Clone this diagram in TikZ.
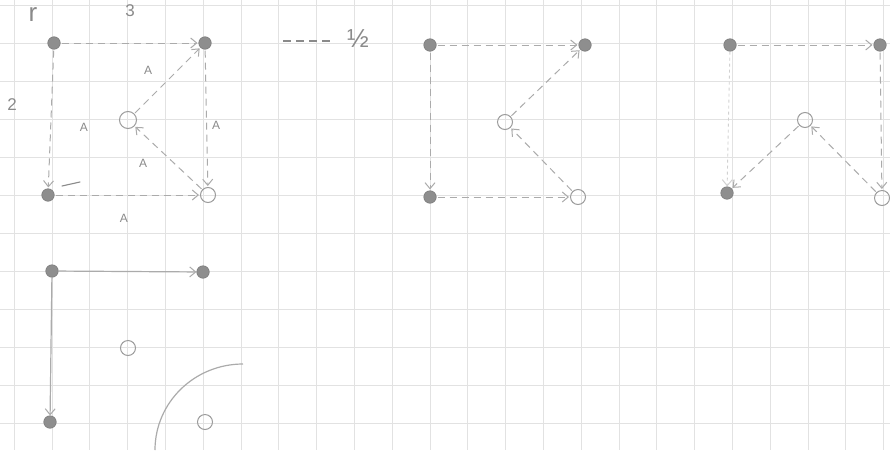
\documentclass[tikz,border=0pt]{standalone}
\usepackage{fontspec}
\setmainfont{Liberation Sans}
\usetikzlibrary{arrows.meta}
\definecolor{gridc}{HTML}{E2E2E2}
\definecolor{dotc}{HTML}{8E8E8E}
\definecolor{dotd}{HTML}{7C7C7C}
\definecolor{ringc}{HTML}{9C9C9C}
\definecolor{edgec}{HTML}{ABABAB}
\definecolor{inkc}{HTML}{8A8A8A}
\tikzset{
  gridline/.style={draw=gridc, line width=0.9pt},
  fdot/.style={circle, fill=dotc, draw=dotd, line width=0.6pt, minimum size=12.5pt, inner sep=0pt},
  hdot/.style={circle, draw=ringc, line width=1pt, minimum size=15pt, inner sep=0pt},
  edge/.style={draw=edgec, line width=1pt, dash pattern=on 7pt off 5pt, shorten >=1pt, shorten <=1pt,
    -{Straight Barb[length=6pt,width=10pt,line width=1pt]}},
  faint/.style={draw=gridc!70!edgec, line width=0.9pt, dash pattern=on 3pt off 3pt,
    -{Straight Barb[length=6pt,width=10pt,line width=1pt]}},
  solidedge/.style={draw=edgec, line width=1.2pt, -{Straight Barb[length=6pt,width=10pt,line width=1pt]}},
  lbl/.style={text=inkc, font=\fontsize{12}{12}\selectfont, inner sep=1pt},
  mid/.style={text=inkc, font=\fontsize{17}{17}\selectfont, inner sep=1pt},
  big/.style={text=inkc, font=\fontsize{26}{26}\selectfont, inner sep=1pt},
  stroke/.style={draw=inkc, line width=1.1pt, line cap=round}
}
\begin{document}
\begin{tikzpicture}[x=1pt,y=-1pt]
\useasboundingbox (0,0) rectangle (890,450);
\fill[white] (0,0) rectangle (890,450);
% grid
\foreach \i in {0,...,23} \draw[gridline] (14.2+37.8*\i,0) -- (14.2+37.8*\i,450);
\foreach \j in {0,...,11} \draw[gridline] (0,5+38*\j) -- (890,5+38*\j);

% ---------- panel 1 ----------
\node[fdot] (A) at (54,43) {};
\node[fdot] (B) at (205,43) {};
\node[fdot] (C) at (48,195) {};
\node[hdot] (D) at (208,195) {};
\node[hdot, minimum size=17pt] (E) at (128,120) {};
\draw[edge] (A) -- (B);
\draw[edge] (A) -- (C);
\draw[edge] (B) -- (D);
\draw[edge] (C) -- (D);
\draw[edge] (E) -- (B);
\draw[edge] (D) -- (E);
\draw[stroke] (62,186) -- (80,182);
\node[big] (lr) at (33,15) {r};
\node[mid] (l3) at (130,11) {3};
\node[mid] (l2) at (12,105) {2};
\node[lbl] (w1) at (148,70) {A};
\node[lbl] (w2) at (84,127) {A};
\node[lbl] (w3) at (216,125) {A};
\node[lbl] (w4) at (143,163) {A};
\node[lbl] (w5) at (124,218) {A};

% legend
\coordinate (h1) at (283,41);
\coordinate (h2) at (330,41);
\draw[draw=inkc, line width=1.2pt, dash pattern=on 8pt off 5pt] (h1) -- (h2);
\node[big] (half) at (358,39) {½};

% ---------- panel 2 ----------
\node[fdot] (F) at (430,45) {};
\node[fdot] (G) at (585,45) {};
\node[fdot] (H) at (430,197) {};
\node[hdot] (I) at (578,197) {};
\node[hdot] (J) at (505,122) {};
\draw[edge] (F) -- (G);
\draw[edge] (F) -- (H);
\draw[edge] (H) -- (I);
\draw[edge] (J) -- (G);
\draw[edge] (I) -- (J);

% ---------- panel 3 ----------
\node[fdot] (K) at (730,45) {};
\node[fdot] (L) at (880,45) {};
\node[fdot] (M) at (727,193) {};
\node[hdot] (N) at (882,198) {};
\node[hdot] (P) at (805,120) {};
\draw[edge] (K) -- (L);
\draw[faint] (K) -- (M);
\draw[edge] (L) -- (N);
\draw[edge] (P) -- (M);
\draw[edge] (N) -- (P);

% ---------- panel 4 ----------
\node[fdot] (Q) at (52,271) {};
\node[fdot] (R) at (203,272) {};
\node[fdot] (S) at (50,422) {};
\node[hdot] (T) at (128,348) {};
\node[hdot] (U) at (205,422) {};
\draw[solidedge] (Q) -- (R);
\draw[solidedge] (Q) -- (S);
\coordinate (arcA) at (243,364);
\draw[draw=edgec, line width=1.2pt] (arcA) arc[start angle=90, end angle=180, x radius=88, y radius=-86];
\end{tikzpicture}
\end{document}
